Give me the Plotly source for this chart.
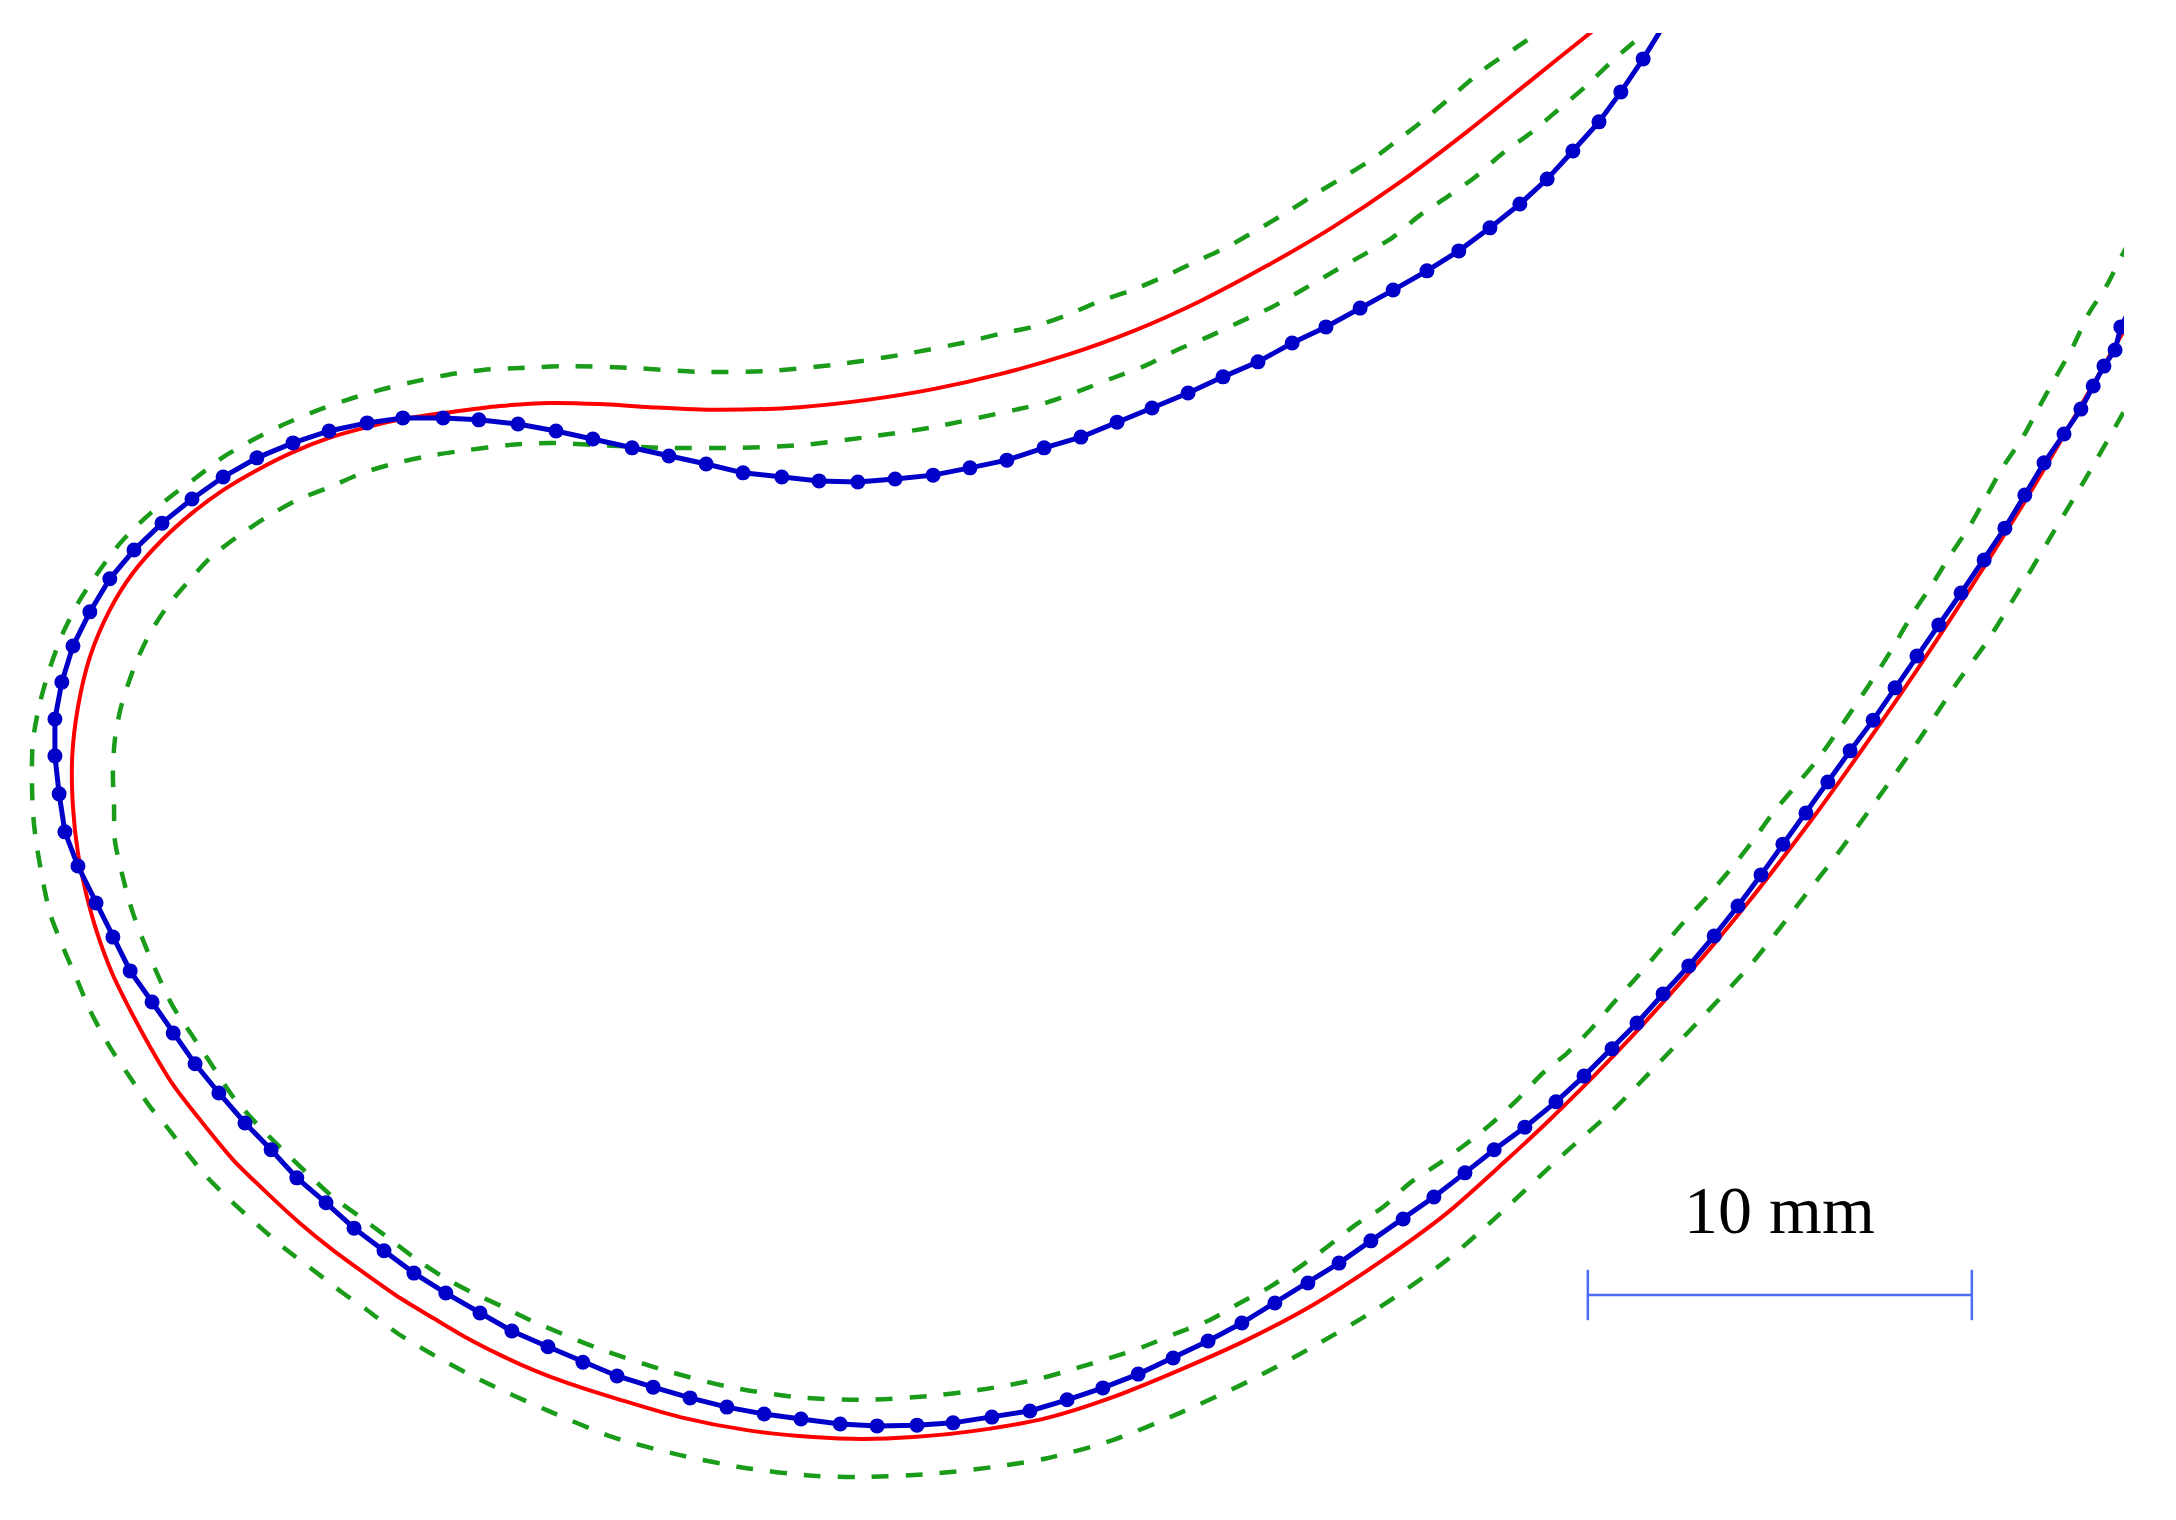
import plotly.graph_objects as go

# nominal contour (mm)
nominal_x = [42.01, 41.48, 39.92, 38.20, 36.46, 34.71, 32.99, 31.25, 29.51, 27.79, 26.04, 24.30, 22.58,
             20.83, 18.67, 16.93, 15.63, 14.32, 13.02, 11.72, 10.49, 9.56, 8.57, 7.63, 6.69, 5.81, 5.00,
             4.22, 3.46, 2.86, 2.34, 2.03, 1.88, 1.90, 2.03, 2.24, 2.53, 2.92, 3.39, 3.91, 4.51, 5.21,
             6.07, 6.95, 7.81, 8.67, 9.56, 10.42, 11.28, 12.16, 13.02, 13.88, 14.77, 16.15, 17.71, 19.45,
             21.17, 22.47, 23.78, 25.52, 27.27, 28.98, 30.73, 32.47, 34.19, 35.94, 37.68, 39.24, 40.29,
             41.15, 42.01, 42.89, 43.75, 44.61, 45.49, 46.35, 47.21, 48.10, 48.96, 49.87, 50.78, 51.80,
             52.66, 53.54, 54.40, 55.29, 55.73]
nominal_y = [39.19, 38.78, 37.53, 36.15, 34.84, 33.67, 32.66, 31.74, 30.96, 30.34, 29.84, 29.45, 29.17,
             28.98, 28.91, 28.98, 29.06, 29.09, 29.01, 28.85, 28.67, 28.46, 28.18, 27.81, 27.34, 26.82,
             26.22, 25.52, 24.66, 23.70, 22.47, 21.17, 19.87, 18.57, 17.37, 16.33, 15.29, 14.24, 13.28,
             12.32, 11.33, 10.42, 9.38, 8.52, 7.73, 7.03, 6.38, 5.78, 5.26, 4.74, 4.30, 3.91, 3.57, 3.13,
             2.68, 2.34, 2.16, 2.11, 2.16, 2.34, 2.66, 3.20, 3.91, 4.69, 5.60, 6.72, 7.99, 9.38, 10.36,
             11.20, 12.08, 13.02, 13.98, 14.97, 16.04, 17.14, 18.28, 19.51, 20.73, 22.06, 23.44, 25.03,
             26.41, 27.89, 29.38, 30.94, 31.72]

# tolerance band, outer side (mm)
outer_x = [40.49, 40.03, 39.51, 38.62, 37.94, 37.24, 36.51, 35.81, 35.08, 34.30, 33.52, 32.73, 31.95,
           31.12, 30.29, 29.48, 28.59, 27.79, 26.90, 26.12, 25.18, 23.44, 21.69, 19.97, 18.23, 16.48,
           14.77, 13.54, 12.58, 11.64, 10.76, 9.90, 9.04, 8.15, 7.37, 6.59, 5.81, 5.13, 4.43, 3.72,
           3.13, 2.60, 2.08, 1.64, 1.30, 1.04, 0.86, 0.83, 0.86, 0.96, 1.30, 1.64, 2.01, 2.34, 2.86,
           3.31, 3.91, 4.35, 4.87, 5.39, 6.07, 6.77, 7.47, 8.26, 8.93, 9.56, 10.34, 11.20, 12.50,
           14.24, 15.96, 17.71, 19.45, 21.17, 22.47, 24.22, 25.86, 27.27, 28.98, 30.73, 32.47, 34.19,
           35.94, 37.68, 38.88, 40.70, 42.01, 43.20, 44.43, 45.65, 46.77, 47.89, 48.93, 49.97, 51.02,
           51.72, 52.58, 53.46, 54.40, 55.29, 55.73]
outer_y = [39.06, 38.72, 38.36, 37.76, 37.19, 36.59, 36.02, 35.49, 35.03, 34.56, 34.06, 33.59, 33.15,
           32.76, 32.37, 32.03, 31.72, 31.38, 31.07, 30.91, 30.68, 30.34, 30.08, 29.92, 29.90, 30.00,
           30.05, 30.00, 29.95, 29.82, 29.64, 29.43, 29.17, 28.85, 28.52, 28.13, 27.68, 27.16, 26.64,
           26.04, 25.44, 24.74, 23.96, 23.10, 22.19, 21.28, 20.31, 19.45, 18.41, 17.53, 15.81, 14.92,
           14.06, 13.28, 12.32, 11.64, 10.76, 10.23, 9.56, 8.93, 8.26, 7.63, 7.03, 6.43, 5.91, 5.47,
           4.87, 4.35, 3.65, 2.86, 2.16, 1.69, 1.35, 1.15, 1.12, 1.20, 1.38, 1.61, 2.08, 2.79, 3.59,
           4.51, 5.55, 6.77, 7.81, 9.51, 10.68, 11.90, 13.20, 14.53, 15.96, 17.40, 18.83, 20.31, 21.88,
           22.84, 24.22, 25.70, 27.27, 28.83, 29.61]

# tolerance band, inner side (mm)
inner_x = [43.23, 42.71, 42.01, 41.28, 40.57, 39.90, 39.14, 38.41, 37.68, 36.98, 36.28, 35.49, 34.71,
           33.91, 33.13, 32.29, 31.46, 30.65, 29.87, 28.98, 28.18, 27.29, 26.43, 24.30, 22.58, 20.83,
           19.09, 17.37, 15.63, 14.32, 13.20, 12.16, 11.28, 10.34, 9.45, 8.59, 7.73, 6.95, 6.17, 5.47,
           4.87, 4.35, 3.91, 3.57, 3.31, 3.13, 2.99, 2.94, 2.97, 2.99, 3.20, 3.46, 3.83, 4.17, 4.51,
           5.03, 5.55, 6.07, 6.59, 7.29, 7.99, 8.67, 9.38, 10.08, 10.76, 11.54, 12.32, 13.10, 13.80,
           15.55, 17.27, 19.01, 20.76, 22.47, 24.22, 25.52, 26.30, 27.16, 28.05, 28.91, 29.77, 30.65,
           31.51, 32.29, 33.07, 33.85, 34.56, 35.29, 36.02, 36.72, 37.50, 38.15, 38.80, 39.51, 40.18,
           40.81, 41.41, 42.01, 42.63, 43.23, 43.83, 44.45, 45.05, 45.63, 46.17, 46.74, 47.32, 47.84,
           48.36, 48.88, 49.30, 49.82, 50.34, 50.76, 51.28, 51.72, 52.16, 52.68, 53.10, 53.54, 53.98,
           54.40, 54.84, 55.29, 55.73]
inner_y = [39.06, 38.62, 38.02, 37.32, 36.72, 36.15, 35.60, 34.97, 34.45, 33.98, 33.41, 32.94, 32.50,
           32.03, 31.59, 31.20, 30.81, 30.47, 30.08, 29.74, 29.43, 29.11, 28.91, 28.46, 28.20, 27.99,
           27.92, 27.92, 27.99, 28.05, 27.99, 27.86, 27.73, 27.53, 27.27, 26.90, 26.56, 26.12, 25.60,
           25.05, 24.40, 23.78, 23.10, 22.40, 21.69, 21.09, 20.31, 19.45, 18.57, 17.71, 16.74, 15.81,
           14.84, 14.06, 13.36, 12.58, 11.80, 11.02, 10.42, 9.71, 9.04, 8.41, 7.89, 7.37, 6.85, 6.33,
           5.91, 5.55, 5.21, 4.48, 3.91, 3.46, 3.20, 3.13, 3.23, 3.39, 3.52, 3.70, 3.96, 4.22, 4.51,
           4.87, 5.21, 5.65, 6.07, 6.59, 7.11, 7.68, 8.15, 8.78, 9.30, 9.77, 10.29, 10.94, 11.64,
           12.16, 12.76, 13.46, 14.14, 14.84, 15.55, 16.22, 16.93, 17.66, 18.41, 19.09, 19.79, 20.52,
           21.28, 22.06, 22.73, 23.62, 24.40, 25.08, 25.86, 26.64, 27.42, 28.20, 28.98, 29.77, 30.55,
           31.43, 32.11, 32.99, 33.80]

# measured points (mm)
meas_x = [43.33, 42.79, 42.21, 41.64, 40.96, 40.29, 39.58, 38.80, 37.99, 37.16, 36.28, 35.42, 34.53,
          33.65, 32.76, 31.85, 30.94, 30.00, 29.09, 28.15, 27.19, 26.22, 25.26, 24.30, 23.31, 22.34,
          21.33, 20.36, 19.35, 18.39, 17.42, 16.46, 15.44, 14.48, 13.49, 12.47, 11.54, 10.49, 9.56,
          8.57, 7.63, 6.69, 5.81, 5.00, 4.22, 3.49, 2.86, 2.34, 1.90, 1.61, 1.43, 1.43, 1.54, 1.69,
          2.03, 2.50, 2.94, 3.39, 3.96, 4.51, 5.08, 5.70, 6.38, 7.06, 7.73, 8.49, 9.22, 10.00, 10.78,
          11.61, 12.50, 13.33, 14.27, 15.18, 16.07, 17.01, 17.97, 18.93, 19.90, 20.86, 21.88, 22.84,
          23.88, 24.82, 25.83, 26.82, 27.79, 28.72, 29.64, 30.55, 31.46, 32.34, 33.20, 34.06, 34.87,
          35.70, 36.54, 37.34, 38.15, 38.91, 39.71, 40.52, 41.25, 41.98, 42.63, 43.31, 43.98, 44.64,
          45.26, 45.86, 46.43, 47.03, 47.60, 48.18, 48.78, 49.35, 49.92, 50.49, 51.07, 51.67, 52.21,
          52.73, 53.23, 53.75, 54.19, 54.51, 54.79, 55.08, 55.23, 55.52]
meas_y = [38.93, 38.05, 37.19, 36.41, 35.65, 34.92, 34.27, 33.65, 33.05, 32.53, 32.03, 31.56, 31.07,
          30.65, 30.16, 29.77, 29.35, 28.96, 28.59, 28.20, 27.92, 27.60, 27.40, 27.21, 27.11, 27.03,
          27.06, 27.16, 27.27, 27.50, 27.71, 27.92, 28.15, 28.36, 28.54, 28.65, 28.70, 28.70, 28.57,
          28.36, 28.05, 27.66, 27.16, 26.59, 25.96, 25.26, 24.51, 23.65, 22.76, 21.82, 20.86, 19.90,
          18.91, 17.92, 17.03, 16.07, 15.18, 14.30, 13.49, 12.68, 11.88, 11.12, 10.34, 9.64, 8.91,
          8.26, 7.60, 7.01, 6.43, 5.91, 5.39, 4.92, 4.51, 4.11, 3.75, 3.46, 3.18, 2.94, 2.76, 2.63,
          2.50, 2.45, 2.47, 2.53, 2.68, 2.84, 3.13, 3.44, 3.80, 4.22, 4.66, 5.13, 5.65, 6.17, 6.69,
          7.27, 7.84, 8.41, 9.04, 9.64, 10.23, 10.89, 11.56, 12.27, 12.94, 13.70, 14.43, 15.21, 15.99,
          16.80, 17.60, 18.41, 19.22, 20.03, 20.83, 21.67, 22.50, 23.31, 24.14, 25.00, 25.83, 26.69,
          27.53, 28.28, 28.93, 29.53, 30.05, 30.47, 31.07, 31.64]

# scale bar
scale_x = [41.35, 51.35]
scale_y = [5.86, 5.86]
scale_label = "10 mm"
label_pos = (46.35, 8.07)

green = '#1a9c1a'
blue = '#0000c8'

fig = go.Figure()
for gx, gy in [(outer_x, outer_y), (inner_x, inner_y)]:
    fig.add_trace(go.Scatter(x=gx, y=gy, mode='lines',
                             line=dict(color=green, width=4.5, dash='17px,17px', shape='spline', smoothing=0.8),
                             hoverinfo='skip', showlegend=False))

fig.add_trace(go.Scatter(x=nominal_x, y=nominal_y, mode='lines',
                         line=dict(color='#ff0000', width=4, shape='spline', smoothing=0.8),
                         showlegend=False))

fig.add_trace(go.Scatter(x=meas_x, y=meas_y, mode='lines+markers',
                         line=dict(color=blue, width=5),
                         marker=dict(color=blue, size=15),
                         showlegend=False))

fig.add_trace(go.Scatter(x=scale_x, y=scale_y, mode='lines+markers',
                         line=dict(color='#4d6df5', width=2.5),
                         marker=dict(symbol='line-ns', size=36, line=dict(color='#4d6df5', width=2.5)),
                         cliponaxis=False, showlegend=False))

fig.add_annotation(x=label_pos[0], y=label_pos[1], text=scale_label, showarrow=False,
                   xanchor='center', yanchor='middle',
                   font=dict(family='Liberation Serif, DejaVu Serif, serif', size=68, color='black'))

# the page body adds an 8px offset, so the figure is 8px smaller and the x range starts at 8px
fig.update_xaxes(range=[0.2083, 55.3125], visible=False, showgrid=False, zeroline=False)
fig.update_yaxes(range=[0, 38.724], visible=False, showgrid=False, zeroline=False)
fig.update_layout(width=2168, height=1512,
                  margin=dict(l=0, r=52, t=25, b=0),
                  paper_bgcolor='white', plot_bgcolor='white')

fig.write_html("out.html")
